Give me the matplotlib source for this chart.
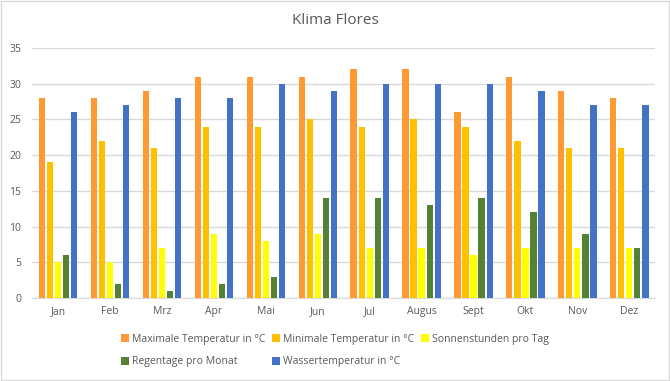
import matplotlib
matplotlib.use("Agg")
import matplotlib.pyplot as plt
import numpy as np

months = ["Jan", "Feb", "Mrz", "Apr", "Mai", "Jun", "Jul", "Augus", "Sept", "Okt", "Nov", "Dez"]
max_temp = [28, 28, 29, 31, 31, 31, 32, 32, 26, 31, 29, 28]
min_temp = [19, 22, 21, 24, 24, 25, 24, 25, 24, 22, 21, 21]
sun_hours = [5, 5, 7, 9, 8, 9, 7, 7, 6, 7, 7, 7]
rain_days = [6, 2, 1, 2, 3, 14, 14, 13, 14, 12, 9, 7]
water_temp = [26, 27, 28, 28, 30, 29, 30, 30, 30, 29, 27, 27]

series = [
    ("Maximale Temperatur in °C", max_temp, "#FF9933"),
    ("Minimale Temperatur in °C", min_temp, "#FFC000"),
    ("Sonnenstunden pro Tag", sun_hours, "#FFFF00"),
    ("Regentage pro Monat", rain_days, "#548235"),
    ("Wassertemperatur in °C", water_temp, "#4472C4"),
]

plt.rcParams['font.family'] = ['Open Sans', 'DejaVu Sans']

fig = plt.figure(figsize=(6.7, 3.81), dpi=100)
ax = fig.add_axes([0.048, 0.218, 0.930, 0.656])

x = np.arange(len(months))
step = 0.155
width = 0.12
handles = []
for i, (name, vals, col) in enumerate(series):
    h = ax.bar(x + (i - 2) * step, vals, width=width, color=col, label=name, zorder=3)
    handles.append(h)

ax.set_xlim(-0.5, len(months) - 0.5)
ax.set_ylim(0, 35)
ax.set_yticks(range(0, 36, 5))
ax.set_xticks(x)
ax.set_xticklabels(months)
ax.grid(axis='y', color='#D9D9D9', linewidth=1, zorder=0)
for s in ['top', 'right', 'left']:
    ax.spines[s].set_visible(False)
ax.spines['bottom'].set_color('#D9D9D9')
ax.tick_params(axis='both', length=0, colors='#595959', labelsize=7.5)
ax.tick_params(axis='x', pad=6)
ax.tick_params(axis='y', pad=8)

fig.text(0.5, 0.945, "Klima Flores", ha='center', va='center', fontsize=11, color='#595959')

# row-major order for a 3-column legend
order = [0, 3, 1, 4, 2]
leg = fig.legend(handles=[handles[i] for i in order], loc='upper center', bbox_to_anchor=(0.5, 0.148), ncol=3,
                 frameon=False, fontsize=7.5, handlelength=0.8, handleheight=0.8,
                 handletextpad=0.3, columnspacing=0.6, labelspacing=1.1)
for t in leg.get_texts():
    t.set_color('#595959')

fig.patches.append(matplotlib.patches.Rectangle((0.001, 0.002), 0.997, 0.995, transform=fig.transFigure,
                                                fill=False, edgecolor='#D9D9D9', linewidth=1))
fig.savefig("out.png", dpi=100, facecolor='white')
